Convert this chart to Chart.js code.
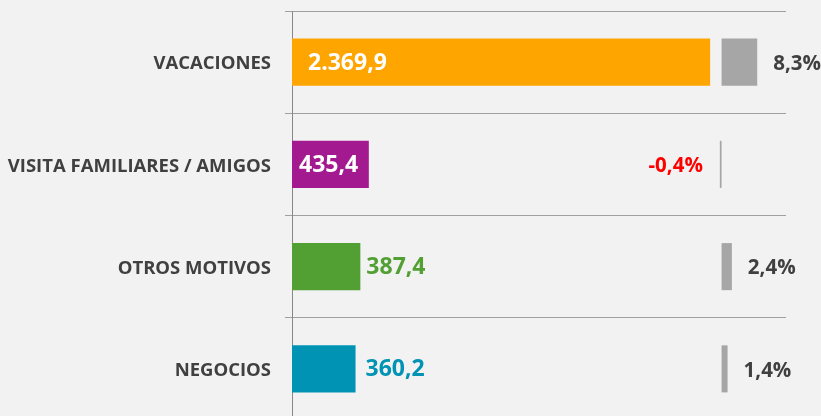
<!DOCTYPE html>
<html>
<head>
<meta charset="utf-8">
<script src="https://cdn.jsdelivr.net/npm/chart.js@4/dist/chart.umd.min.js"></script>
<style>
  html, body { margin: 0; padding: 0; background: #f2f2f2; overflow: hidden; }
  canvas { display: block; }
</style>
</head>
<body>
<canvas id="motivosChart" width="821" height="424"></canvas>
<script>
// datos del gráfico
const categorias = ["VACACIONES", "VISITA FAMILIARES / AMIGOS", "OTROS MOTIVOS", "NEGOCIOS"];
const valores = [2369.9, 435.4, 387.4, 360.2];
const variacion = [8.3, -0.4, 2.4, 1.4];
const coloresBarras = ["#ffa500", "#a3198f", "#52a034", "#0093b4"];

// 2369,9 -> "2.369,9"
function formato(v) {
  const partes = Math.abs(v).toFixed(1).split(".");
  partes[0] = partes[0].replace(/\B(?=(\d{3})+(?!\d))/g, ".");
  return (v < 0 ? "-" : "") + partes.join(",");
}

const etiquetas = {
  id: "etiquetas",
  afterDatasetsDraw(chart) {
    const ctx = chart.ctx;
    const barras = chart.getDatasetMeta(0).data;
    const barrasVar = chart.getDatasetMeta(1).data;
    const dentro = [true, true, false, false];
    const desplaz = [16, 7, 6, 10];

    ctx.save();
    ctx.textBaseline = "middle";
    ctx.font = "bold 23px 'Open Sans'";

    barras.forEach((bar, i) => {
      const txt = formato(valores[i]);
      ctx.textAlign = "left";
      if (dentro[i]) {
        ctx.fillStyle = "#ffffff";
        ctx.fillText(txt, bar.base + desplaz[i], bar.y + 1);
      } else {
        ctx.fillStyle = coloresBarras[i];
        ctx.fillText(txt, bar.x + desplaz[i], bar.y + 1);
      }
    });

    // variación %
    ctx.font = "bold 20.5px 'Open Sans'";
    barrasVar.forEach((bar, i) => {
      const txt = formato(variacion[i]) + "%";
      if (variacion[i] < 0) {
        ctx.fillStyle = "#ff0000";
        ctx.textAlign = "right";
        ctx.fillText(txt, bar.x - 17, bar.y + 2);
      } else {
        ctx.fillStyle = "#404040";
        ctx.textAlign = "left";
        ctx.fillText(txt, bar.x + 16, bar.y + 2);
      }
    });
    ctx.restore();
  }
};

new Chart(document.getElementById("motivosChart"), {
  type: "bar",
  data: {
    labels: categorias,
    datasets: [
      {
        label: "Gasto",
        data: valores,
        backgroundColor: coloresBarras,
        xAxisID: "x",
        grouped: false,
        categoryPercentage: 1,
        barPercentage: 0.46
      },
      {
        label: "Variación",
        data: variacion,
        backgroundColor: "#a6a6a6",
        xAxisID: "x2",
        grouped: false,
        categoryPercentage: 1,
        barPercentage: 0.46
      }
    ]
  },
  options: {
    indexAxis: "y",
    responsive: false,
    animation: false,
    layout: { padding: { top: 11, right: 35, bottom: 4, left: 0 } },
    plugins: {
      legend: { display: false },
      tooltip: { enabled: false }
    },
    scales: {
      x: { display: false, min: 0, max: 2800 },
      x2: { display: false, min: -100, max: 15 },
      y: {
        afterFit(scale) {
          scale.width = 292;
          scale.paddingTop = 0;
          scale.paddingBottom = 0;
        },
        grid: {
          offset: true,
          color: "#a0a0a0",
          lineWidth: 1,
          tickLength: 7,
          tickColor: "#a0a0a0"
        },
        border: { display: true, color: "#888888", width: 1 },
        ticks: {
          padding: 14,
          labelOffset: 2,
          color: "#404040",
          font: { family: "'Open Sans'", size: 18.5, weight: "bold" }
        }
      }
    }
  },
  plugins: [etiquetas]
});
</script>
</body>
</html>
